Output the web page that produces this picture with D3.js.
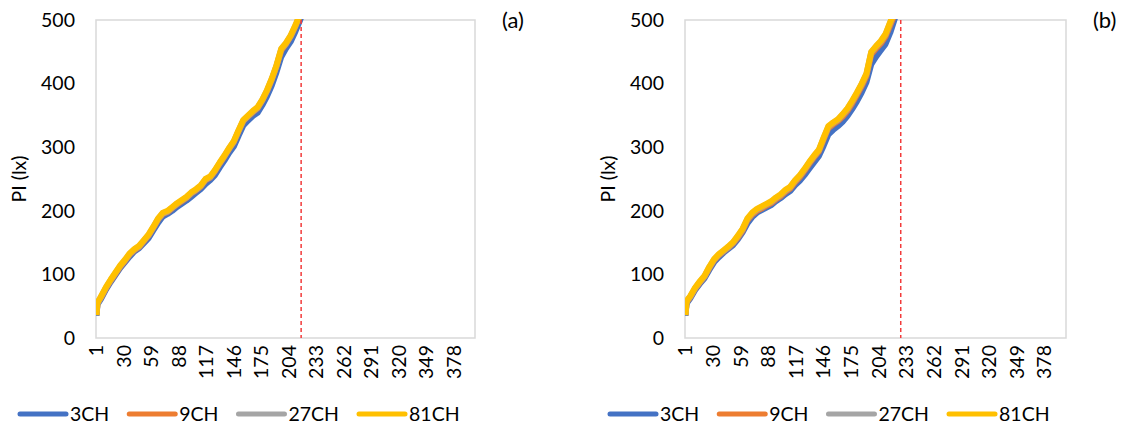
<!DOCTYPE html>
<html>
<head>
  <meta charset="utf-8">
  <script src="https://cdnjs.cloudflare.com/ajax/libs/d3/7.8.5/d3.min.js"></script>
  <style>
  body { margin: 0; background: #fff; }
  text { font-family: Lato, "Open Sans", sans-serif; fill: #000; }
  </style>
</head>
<body>
<svg id="chart" width="1131" height="428"></svg>
<script>
// ---- data ----
var nCats = 400;
var tickCats = [1, 30, 59, 88, 117, 146, 175, 204, 233, 262, 291, 320, 349, 378];
var yTicks = [0, 100, 200, 300, 400, 500];
var seriesNames = ["3CH", "9CH", "27CH", "81CH"];
var cats = [1, 2, 3, 6, 11, 16, 21, 26, 31, 36, 41, 46, 51, 56, 61, 66, 71, 76, 81, 86, 91, 96,
  101, 106, 111, 116, 121, 126, 131, 136, 141, 146, 151, 156, 161, 166, 171, 176, 181, 186,
  191, 196, 201, 206, 211, 216, 221];

// panel (a)
var a3 = [35,52,55,62,76,88,99,110,119,128,136,141,149,157,169,181,191,195,200,206,211,216,222,228,234,242,248,256,268,279,291,301,318,334,342,349,354,366,380,397,418,442,455,466,482,500,520];
var a9 = [36,54,57,64,78,90,101,112,121,131,138,143,152,161,173,186,195,198,204,210,215,220,227,232,238,248,252,262,274,285,297,308,325,341,348,355,361,373,388,406,427,452,462,474,490,507,527];
var a27 = [36,54,57,65,79,91,102,113,122,132,139,144,153,162,174,187,196,199,205,211,216,221,228,233,239,249,253,263,275,286,298,309,326,342,349,356,362,374,389,407,428,454,463,475,491,509,529];
var a81 = [36,55,58,66,80,92,103,114,123,133,140,145,154,163,175,188,197,200,206,212,217,222,229,234,240,250,254,264,276,287,299,310,327,343,350,357,363,375,390,408,429,455,464,476,492,510,530];
var aLimit = 217;

// panel (b)
var b3 = [35,52,56,62,75,85,94,107,119,127,134,140,146,155,166,180,190,197,201,205,209,215,220,226,231,240,247,256,266,276,286,302,320,327,333,340,349,360,372,386,402,430,442,452,462,480,503];
var b9 = [36,54,58,64,77,87,96,110,122,130,136,142,149,158,169,185,194,200,204,208,212,218,223,230,235,245,253,263,274,284,293,312,330,336,341,348,357,369,382,396,412,446,455,463,474,492,510];
var b27 = [36,54,59,65,78,88,97,111,123,131,137,143,150,160,171,187,196,202,206,210,214,220,225,232,237,247,255,265,276,286,295,314,332,338,343,351,360,372,385,399,415,449,458,466,477,496,514];
var b81 = [36,55,60,66,79,89,98,112,124,132,138,144,151,161,172,188,197,203,207,211,215,221,226,233,238,248,256,266,277,287,296,315,333,339,344,352,361,373,386,400,416,450,459,467,478,497,515];
var bLimit = 227;

var colors = ["#4472C4", "#ED7D31", "#A5A5A5", "#FFC000"];

var svg = d3.select("#chart");

function drawPanel(id, left, right, series, limit, label, legendX) {
  var top = 20, bottom = 338;
  var g = svg.append("g");

  var x = d3.scaleBand()
      .domain(d3.range(1, nCats + 1))
      .range([left, right])
      .padding(0);
  var cx = function(c) { return x(c) + x.bandwidth() / 2; };

  var y = d3.scaleLinear()
      .domain([0, 500])
      .range([bottom, top]);

  // plot frame
  g.append("rect")
      .attr("x", left).attr("y", top)
      .attr("width", right - left).attr("height", bottom - top)
      .attr("fill", "none")
      .attr("stroke", "#d9d9d9")
      .attr("stroke-width", 1.5);

  g.append("clipPath").attr("id", "clip" + id)
    .append("rect")
      .attr("x", left).attr("y", top - 1)
      .attr("width", right - left).attr("height", bottom - top + 1);

  var line = d3.line()
      .x(function(d) { return cx(d[0]); })
      .y(function(d) { return y(d[1]); });

  series.forEach(function(vals, i) {
    g.append("path")
        .datum(cats.map(function(c, k) { return [c, vals[k]]; }))
        .attr("clip-path", "url(#clip" + id + ")")
        .attr("fill", "none")
        .attr("stroke", colors[i])
        .attr("stroke-width", 6)
        .attr("stroke-linejoin", "round")
        .attr("d", line);
  });

  // red dashed limit
  g.append("line")
      .attr("x1", cx(limit)).attr("x2", cx(limit))
      .attr("y1", top).attr("y2", bottom)
      .attr("stroke", "#f23b3b")
      .attr("stroke-width", 1.5)
      .attr("stroke-dasharray", "4,3");

  // y axis
  var ya = g.append("g")
      .attr("transform", "translate(" + (left - 21) + ",0)")
      .call(d3.axisLeft(y).tickValues(yTicks).tickSize(0).tickPadding(0));
  ya.select(".domain").remove();
  ya.selectAll("text").style("font-size", "19.5px").attr("font-family", null);

  // x axis
  var xa = g.append("g")
      .attr("transform", "translate(0," + bottom + ")")
      .call(d3.axisBottom(x).tickValues(tickCats).tickSize(0).tickPadding(0));
  xa.select(".domain").remove();
  xa.selectAll("text")
      .style("font-size", "19.5px")
      .attr("font-family", null)
      .attr("transform", "rotate(-90)")
      .attr("text-anchor", "end")
      .attr("x", -7)
      .attr("y", 0)
      .attr("dy", "0.35em");

  // y title
  g.append("text")
      .attr("transform", "translate(" + (left - 70) + "," + ((top + bottom) / 2) + ") rotate(-90)")
      .attr("text-anchor", "middle")
      .style("font-size", "19.5px")
      .text("PI (lx)");

  // panel label
  g.append("text")
      .attr("x", right + 27).attr("y", 28)
      .style("font-size", "22px")
      .text(label);

  // legend
  var lx = legendX;
  seriesNames.forEach(function(name, i) {
    g.append("line")
        .attr("x1", lx + 2).attr("x2", lx + 48)
        .attr("y1", 414).attr("y2", 414)
        .attr("stroke", colors[i])
        .attr("stroke-width", 5)
        .attr("stroke-linecap", "round");
    var t = g.append("text")
        .attr("x", lx + 52).attr("y", 421)
        .style("font-size", "19.5px")
        .text(name);
    lx += 52 + t.node().getComputedTextLength() + 18;
  });
}

drawPanel("a", 96, 475, [a3, a9, a27, a81], aLimit, "(a)", 18);
drawPanel("b", 685, 1066, [b3, b9, b27, b81], bLimit, "(b)", 608);
</script>
</body>
</html>
